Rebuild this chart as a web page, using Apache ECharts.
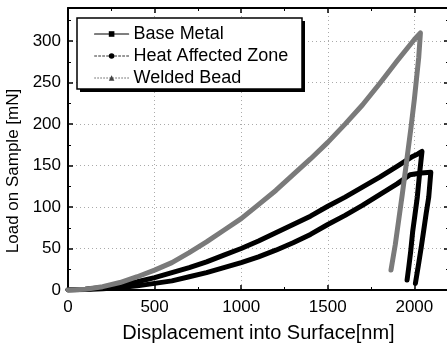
<!DOCTYPE html>
<html>
<head>
<meta charset="utf-8">
<script src="https://cdn.jsdelivr.net/npm/echarts@6/dist/echarts.min.js"></script>
<style>
  html, body { margin: 0; padding: 0; background: #fff; }
  #chart { width: 447px; height: 347px; }
</style>
</head>
<body>
<div id="chart"></div>
<script>
// [displacement nm, load mN]
var baseLoading = [[0, 0], [100, 0.5], [200, 1.5], [300, 3], [400, 5], [500, 8], [600, 11], [700, 16], [800, 21], [900, 27], [1000, 33], [1100, 40], [1200, 48], [1300, 57], [1400, 67], [1500, 79], [1600, 90], [1700, 102], [1800, 115], [1900, 128], [1975, 139]];
var baseHold = [[2040, 141], [2095, 142]];
var baseUnloading = [[2083, 112], [2068, 92], [2054, 72], [2040, 52], [2025, 32], [2006, 8]];

var hazLoading = [[0, 0], [100, 1], [200, 3], [300, 6], [400, 10], [500, 15], [600, 21], [700, 27], [800, 34], [900, 42], [1000, 50], [1100, 59], [1200, 69], [1300, 79], [1400, 89], [1500, 101], [1600, 112], [1700, 124], [1800, 136], [1900, 149], [1990, 161]];
var hazHold = [[2020, 164], [2044, 167]];
var hazUnloading = [[2030, 140], [2017, 112], [2003, 90], [1990, 70], [1978, 45], [1968, 28], [1958, 12]];

var weldLoading = [[0, 0], [100, 1], [200, 4], [300, 9], [400, 16], [500, 24], [600, 33], [700, 45], [800, 58], [900, 72], [1000, 86], [1100, 103], [1200, 120], [1300, 139], [1400, 158], [1500, 178], [1600, 200], [1700, 223], [1800, 249], [1900, 276], [2000, 302], [2035, 310]];
var weldUnloading = [[2025, 280], [2000, 230], [1980, 195], [1952, 150], [1930, 115], [1912, 88], [1890, 55], [1865, 24]];

var seriesNames = ['Base Metal', 'Heat Affected Zone', 'Welded Bead'];
var xTicks = { min: 0, max: 2200, interval: 500 };
var yTicks = { min: 0, max: 340, interval: 50 };

var font = 'Liberation Sans, Arial, sans-serif';
var chart = echarts.init(document.getElementById('chart'));

function frameAxis(pos, t) {
    return {
        type: 'value',
        position: pos,
        min: t.min,
        max: t.max,
        interval: t.interval,
        axisLine: { show: true, onZero: false, lineStyle: { color: '#000', width: 2 } },
        axisTick: { show: true, inside: true, length: 5, lineStyle: { color: '#000', width: 1.5 } },
        minorTick: { show: true, splitNumber: 2, length: 3, lineStyle: { color: '#000', width: 1 } },
        axisLabel: { show: false },
        splitLine: { show: false }
    };
}

var grid = { color: '#aaa', type: [1, 3], width: 1 };

var xMain = frameAxis('bottom', xTicks);
xMain.axisLabel = { show: true, showMaxLabel: false, margin: 9, color: '#000', fontSize: 17, fontFamily: font,
    formatter: function (v) { return String(v); } };
xMain.splitLine = { show: true, lineStyle: grid };
xMain.name = 'Displacement into Surface[nm]';
xMain.nameLocation = 'middle';
xMain.nameGap = 33;
xMain.nameTextStyle = { color: '#000', fontSize: 20, fontFamily: font };

var yMain = frameAxis('left', yTicks);
yMain.axisLabel = { show: true, showMaxLabel: false, margin: 7, color: '#000', fontSize: 17, fontFamily: font };
yMain.splitLine = { show: true, lineStyle: grid };
yMain.name = 'Load on Sample [mN]';
yMain.nameLocation = 'middle';
yMain.nameGap = 38;
yMain.nameTextStyle = { color: '#000', fontSize: 17, fontFamily: font, padding: [0, 44, 0, 0] };

var option = {
    backgroundColor: '#fff',
    animation: false,
    grid: { left: 68, top: 8, width: 381, height: 282, outerBoundsMode: 'none' },
    xAxis: [xMain, frameAxis('top', xTicks)],
    yAxis: [yMain, frameAxis('right', yTicks)],
    // legend frame with its offset shadow
    graphic: [
        { type: 'rect', z: 10, shape: { x: 80, y: 21, width: 225, height: 71 }, style: { fill: '#000' } },
        { type: 'rect', z: 11, shape: { x: 77, y: 18, width: 225, height: 71 }, style: { fill: '#fff', stroke: '#000', lineWidth: 1.5 } }
    ],
    legend: {
        z: 20,
        orient: 'vertical',
        left: 77,
        top: 18,
        padding: [7, 16, 5, 17],
        itemGap: 4,
        itemWidth: 34,
        itemHeight: 7,
        textStyle: { color: '#000', fontSize: 18, fontFamily: font, lineHeight: 18 },
        data: [
            { name: seriesNames[0], itemStyle: { color: '#000' }, lineStyle: { color: '#000', width: 1.2, type: 'solid' } },
            { name: seriesNames[1], itemStyle: { color: '#000' }, lineStyle: { color: '#333', width: 1, type: [2, 2] } },
            { name: seriesNames[2], itemStyle: { color: '#444' }, lineStyle: { color: '#777', width: 1, type: [1, 2] } }
        ]
    },
    series: [
        {
            name: seriesNames[0],
            type: 'line',
            symbol: 'rect',
            symbolSize: 6,
            showSymbol: false,
            itemStyle: { color: '#000' },
            lineStyle: { color: '#000', width: 5, cap: 'round', join: 'round' },
            data: baseLoading.concat(baseHold, baseUnloading)
        },
        {
            name: seriesNames[1],
            type: 'line',
            symbol: 'circle',
            symbolSize: 6,
            showSymbol: false,
            itemStyle: { color: '#000' },
            lineStyle: { color: '#000', width: 5, cap: 'round', join: 'round' },
            data: hazLoading.concat(hazHold, hazUnloading)
        },
        {
            name: seriesNames[2],
            type: 'line',
            symbol: 'triangle',
            symbolSize: 6,
            showSymbol: false,
            itemStyle: { color: '#666' },
            lineStyle: { color: '#7a7a7a', width: 5, cap: 'round', join: 'round' },
            data: weldLoading.concat(weldUnloading)
        }
    ]
};
chart.setOption(option);
</script>
</body>
</html>
